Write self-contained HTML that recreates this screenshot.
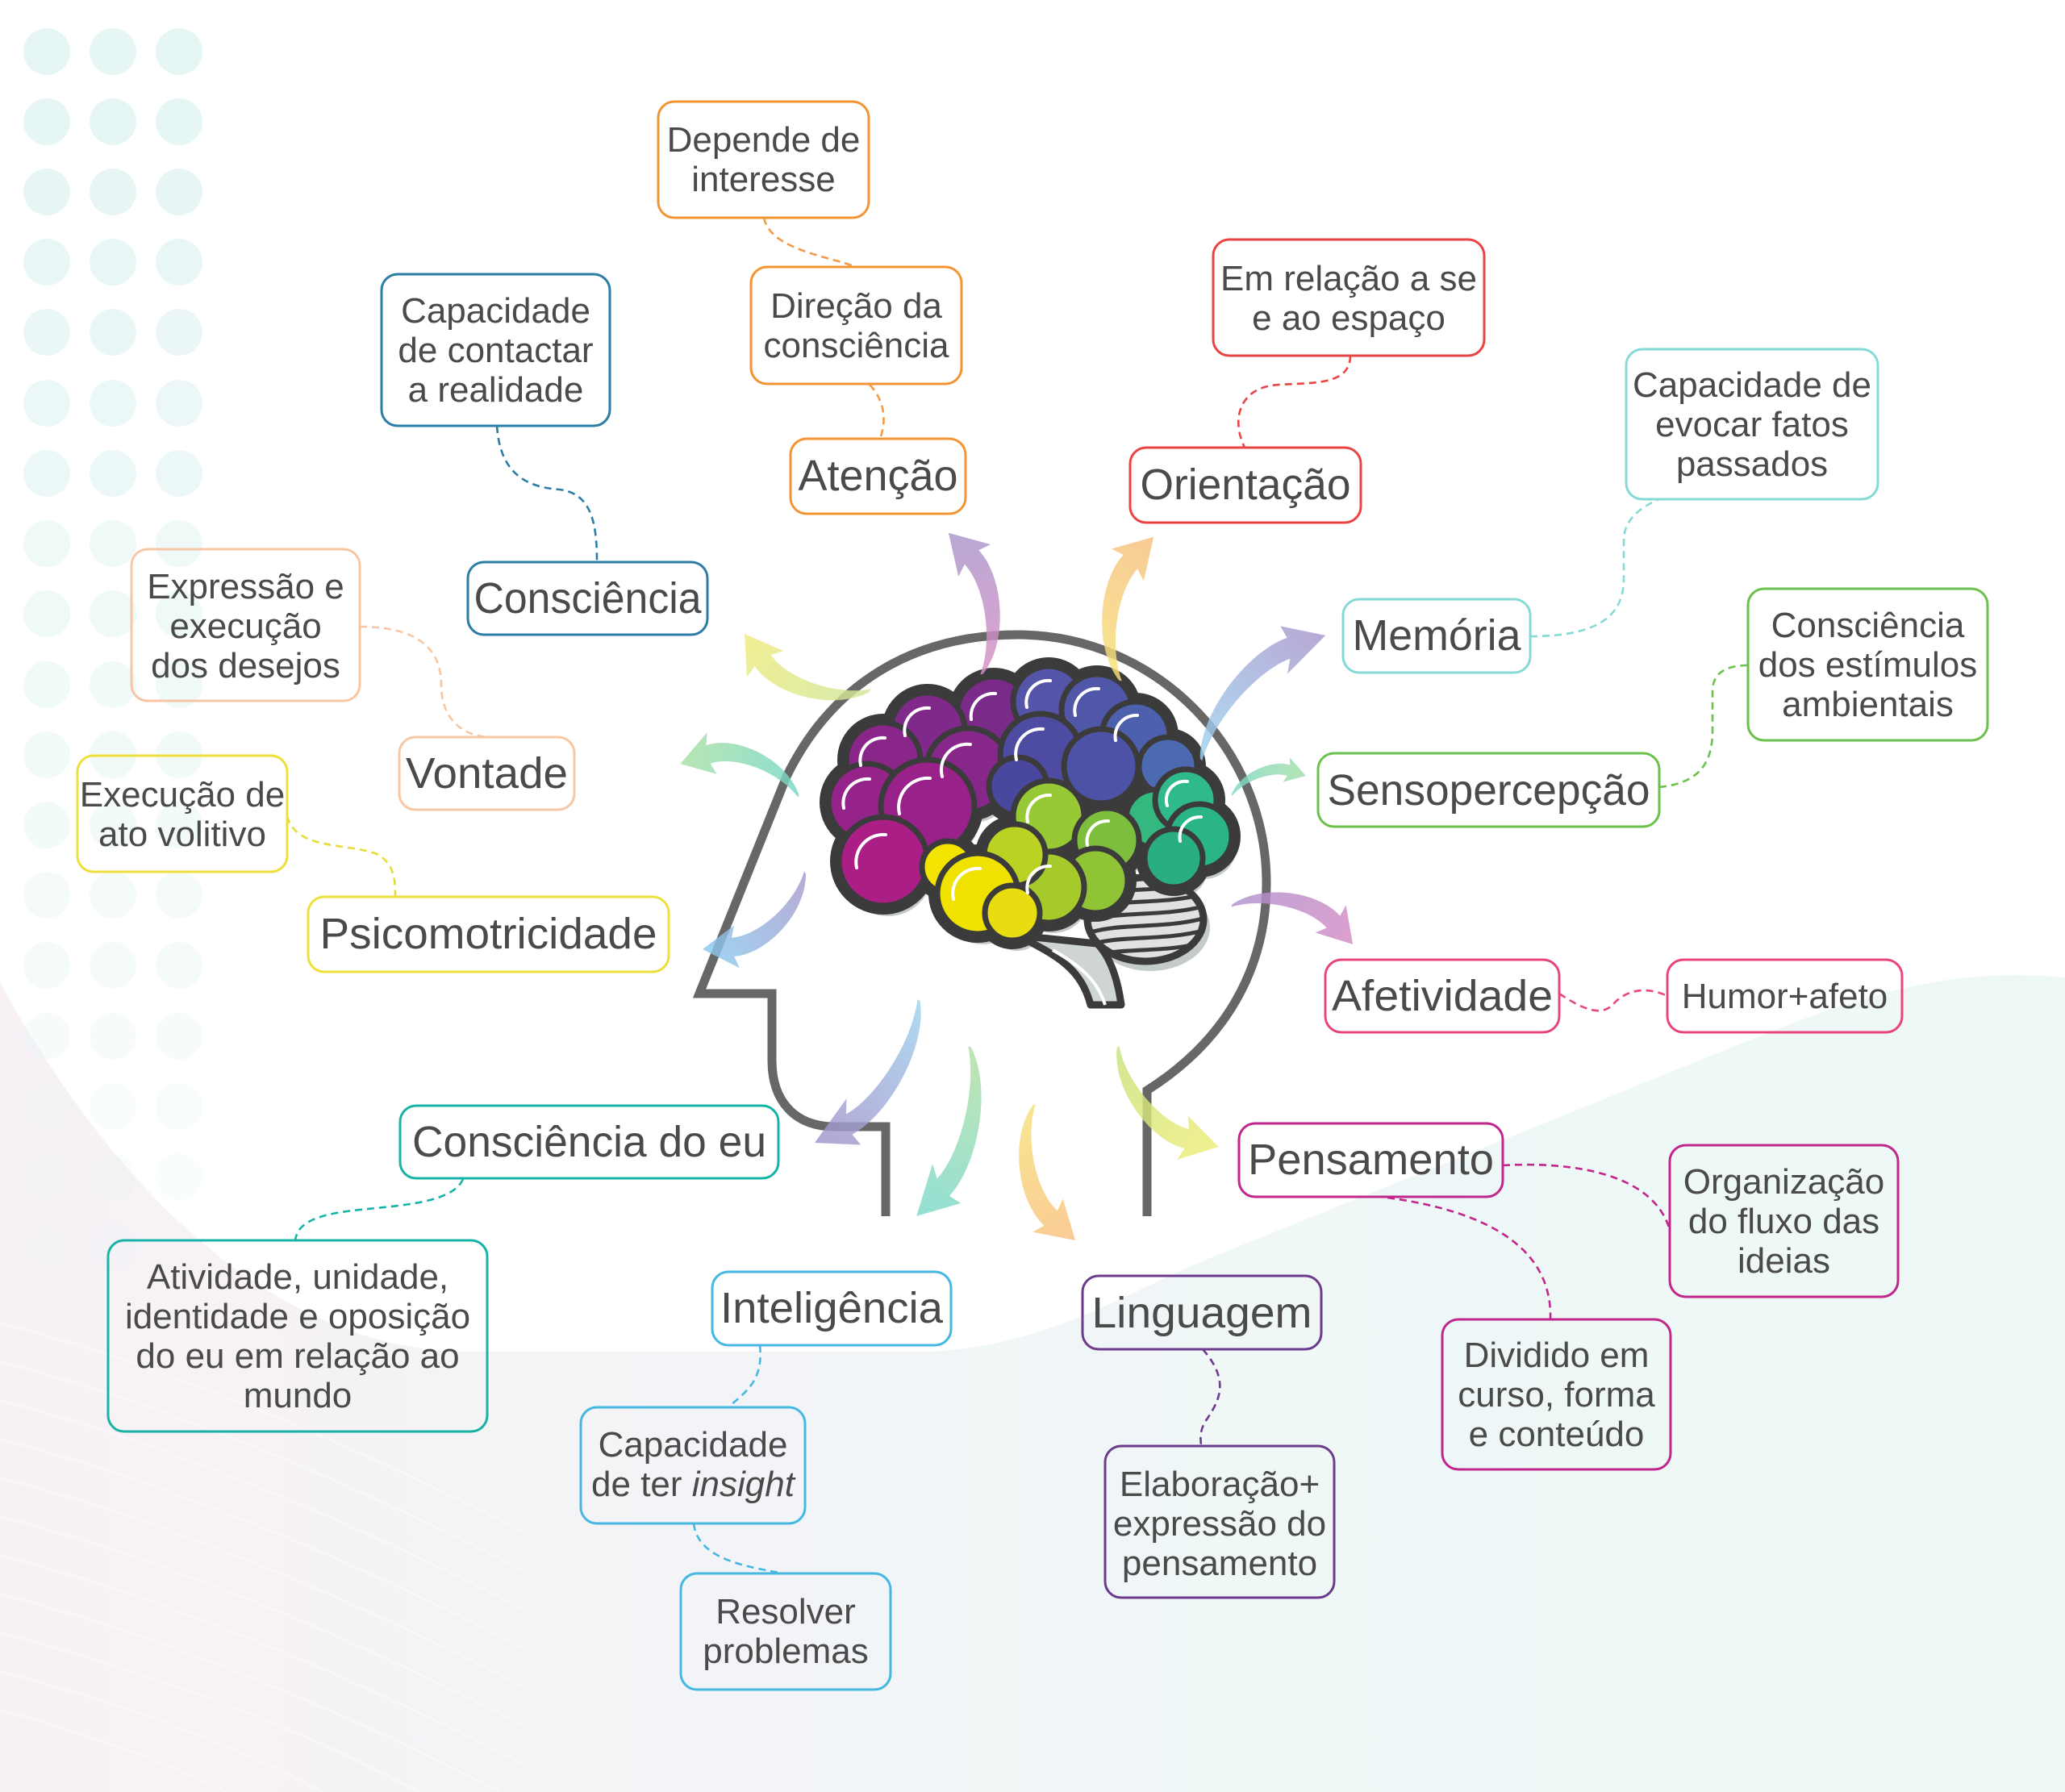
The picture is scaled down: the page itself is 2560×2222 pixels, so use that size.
<!DOCTYPE html>
<html><head><meta charset="utf-8"><style>
html,body{margin:0;padding:0;background:#fff;}
svg{display:block;}
text{font-family:"Liberation Sans","DejaVu Sans",sans-serif;fill:#4a4a4a;}
.s{font-size:44px;text-anchor:middle;}
.b{font-size:54px;text-anchor:middle;}
.box{fill:none;stroke-width:3;}
.cn{fill:none;stroke-width:2.6;stroke-dasharray:9 6;}
</style></head><body>
<svg width="2560" height="2222" viewBox="0 0 2560 2222" xmlns="http://www.w3.org/2000/svg">
<defs>
<linearGradient id="bg" x1="0" y1="0" x2="1" y2="0">
<stop offset="0" stop-color="#f7f1f5"/><stop offset="0.35" stop-color="#f3f4f7"/><stop offset="0.6" stop-color="#eff7f7"/><stop offset="1" stop-color="#edf8f6"/>
</linearGradient>
<path id="arw" d="M 0 -1 C 18 -24 62 -31 83.6 -18 L 85.6 -27.2 L 100 0 L 69.2 0.2 L 76.4 -6 C 59.3 -16.3 22 -14 0 1 Z"/>
<linearGradient id="a1" x1="0" y1="0" x2="1" y2="0"><stop offset="0" stop-color="#cfe69a"/><stop offset="1" stop-color="#eeec7c"/></linearGradient>
<linearGradient id="a2" x1="0" y1="0" x2="1" y2="0"><stop offset="0" stop-color="#d88fc4"/><stop offset="1" stop-color="#a795cb"/></linearGradient>
<linearGradient id="a3" x1="0" y1="0" x2="1" y2="0"><stop offset="0" stop-color="#f8e27a"/><stop offset="1" stop-color="#f6c07e"/></linearGradient>
<linearGradient id="a4" x1="0" y1="0" x2="1" y2="0"><stop offset="0" stop-color="#9dd3f0"/><stop offset="1" stop-color="#a996cc"/></linearGradient>
<linearGradient id="a5" x1="0" y1="0" x2="1" y2="0"><stop offset="0" stop-color="#7bd6c6"/><stop offset="1" stop-color="#a4e0a8"/></linearGradient>
<linearGradient id="a6" x1="0" y1="0" x2="1" y2="0"><stop offset="0" stop-color="#ae90d0"/><stop offset="1" stop-color="#d48cc4"/></linearGradient>
<linearGradient id="a7" x1="0" y1="0" x2="1" y2="0"><stop offset="0" stop-color="#c8e27c"/><stop offset="1" stop-color="#eeee78"/></linearGradient>
<linearGradient id="a8" x1="0" y1="0" x2="1" y2="0"><stop offset="0" stop-color="#f8e07a"/><stop offset="1" stop-color="#f8c07e"/></linearGradient>
<linearGradient id="a9" x1="0" y1="0" x2="1" y2="0"><stop offset="0" stop-color="#b2e0a2"/><stop offset="1" stop-color="#7cd8cc"/></linearGradient>
<linearGradient id="a10" x1="0" y1="0" x2="1" y2="0"><stop offset="0" stop-color="#9fd3f0"/><stop offset="1" stop-color="#a293c9"/></linearGradient>
<linearGradient id="a11" x1="0" y1="0" x2="1" y2="0"><stop offset="0" stop-color="#a898cc"/><stop offset="1" stop-color="#8ccaee"/></linearGradient>
<linearGradient id="a12" x1="0" y1="0" x2="1" y2="0"><stop offset="0" stop-color="#74d6c8"/><stop offset="1" stop-color="#a8e0a4"/></linearGradient>
<g id="blob">
<circle cx="1232" cy="885" r="46"/><circle cx="1150" cy="905" r="46"/><circle cx="1095" cy="942" r="46"/><circle cx="1075" cy="995" r="48"/><circle cx="1200" cy="955" r="52"/><circle cx="1150" cy="1000" r="58"/><circle cx="1095" cy="1068" r="55"/>
<circle cx="1300" cy="870" r="44"/><circle cx="1360" cy="880" r="44"/><circle cx="1408" cy="912" r="42"/><circle cx="1448" cy="950" r="36"/><circle cx="1290" cy="935" r="50"/><circle cx="1365" cy="950" r="46"/><circle cx="1262" cy="975" r="36"/>
<circle cx="1432" cy="1015" r="36"/><circle cx="1470" cy="992" r="38"/><circle cx="1487" cy="1037" r="40"/><circle cx="1455" cy="1064" r="36"/>
<circle cx="1300" cy="1012" r="44"/><circle cx="1372" cy="1042" r="40"/><circle cx="1358" cy="1092" r="40"/><circle cx="1300" cy="1100" r="44"/><circle cx="1258" cy="1060" r="38"/>
<circle cx="1175" cy="1075" r="32"/><circle cx="1212" cy="1108" r="50"/><circle cx="1255" cy="1132" r="34"/>
</g>
<clipPath id="cbclip"><ellipse cx="1420" cy="1140" rx="72" ry="52"/></clipPath>
</defs>

<!-- background -->
<rect width="2560" height="2222" fill="#ffffff"/>
<path d="M0 1218 C 110 1420 300 1660 560 1676 L 1150 1676 C 1300 1670 1400 1600 1500 1560 L 2176 1287 C 2330 1225 2430 1200 2560 1212 L 2560 2222 L 0 2222 Z" fill="url(#bg)"/>
<g stroke="#ffffff" stroke-width="3" fill="none" opacity="0.35">
<path d="M0 1640 Q 300 1720 650 1900"/><path d="M0 1688 Q 300 1768 650 1948"/><path d="M0 1736 Q 300 1816 650 1996"/><path d="M0 1784 Q 300 1864 650 2044"/><path d="M0 1832 Q 300 1912 650 2092"/><path d="M0 1880 Q 300 1960 650 2140"/><path d="M0 1928 Q 300 2008 650 2188"/><path d="M0 1976 Q 300 2056 620 2222"/><path d="M0 2024 Q 300 2104 520 2222"/><path d="M0 2072 Q 250 2140 400 2222"/><path d="M0 2120 Q 180 2170 280 2222"/>
</g>

<!-- dots -->
<g fill="#e5f6f5">
<g opacity="1"><circle cx="58" cy="64" r="29"/><circle cx="140" cy="64" r="29"/><circle cx="222" cy="64" r="29"/></g>
<g opacity="0.95"><circle cx="58" cy="151" r="29"/><circle cx="140" cy="151" r="29"/><circle cx="222" cy="151" r="29"/></g>
<g opacity="0.9"><circle cx="58" cy="238" r="29"/><circle cx="140" cy="238" r="29"/><circle cx="222" cy="238" r="29"/></g>
<g opacity="0.85"><circle cx="58" cy="325" r="29"/><circle cx="140" cy="325" r="29"/><circle cx="222" cy="325" r="29"/></g>
<g opacity="0.8"><circle cx="58" cy="412" r="29"/><circle cx="140" cy="412" r="29"/><circle cx="222" cy="412" r="29"/></g>
<g opacity="0.75"><circle cx="58" cy="500" r="29"/><circle cx="140" cy="500" r="29"/><circle cx="222" cy="500" r="29"/></g>
<g opacity="0.7"><circle cx="58" cy="587" r="29"/><circle cx="140" cy="587" r="29"/><circle cx="222" cy="587" r="29"/></g>
<g opacity="0.65"><circle cx="58" cy="674" r="29"/><circle cx="140" cy="674" r="29"/><circle cx="222" cy="674" r="29"/></g>
<g opacity="0.6"><circle cx="58" cy="761" r="29"/><circle cx="140" cy="761" r="29"/><circle cx="222" cy="761" r="29"/></g>
<g opacity="0.55"><circle cx="58" cy="849" r="29"/><circle cx="140" cy="849" r="29"/><circle cx="222" cy="849" r="29"/></g>
<g opacity="0.5"><circle cx="58" cy="936" r="29"/><circle cx="140" cy="936" r="29"/><circle cx="222" cy="936" r="29"/></g>
<g opacity="0.45"><circle cx="58" cy="1023" r="29"/><circle cx="140" cy="1023" r="29"/><circle cx="222" cy="1023" r="29"/></g>
<g opacity="0.4"><circle cx="58" cy="1110" r="29"/><circle cx="140" cy="1110" r="29"/><circle cx="222" cy="1110" r="29"/></g>
<g opacity="0.35"><circle cx="58" cy="1197" r="29"/><circle cx="140" cy="1197" r="29"/><circle cx="222" cy="1197" r="29"/></g>
<g opacity="0.3"><circle cx="58" cy="1285" r="29"/><circle cx="140" cy="1285" r="29"/><circle cx="222" cy="1285" r="29"/></g>
<g opacity="0.25"><circle cx="58" cy="1372" r="29"/><circle cx="140" cy="1372" r="29"/><circle cx="222" cy="1372" r="29"/></g>
<g opacity="0.2"><circle cx="58" cy="1459" r="29"/><circle cx="140" cy="1459" r="29"/><circle cx="222" cy="1459" r="29"/></g>
<g opacity="0.14"><circle cx="58" cy="1546" r="29"/><circle cx="140" cy="1546" r="29"/></g>
</g>

<!-- head outline -->
<path d="M1098 1508 V1397 H1035 C985 1397 957 1365 957 1315 V1232 H867 L975 963 C1030 850 1130 787 1262 787 C1430 787 1570 925 1570 1095 C1570 1200 1520 1290 1422 1352 V1508" fill="none" stroke="#676767" stroke-width="11" stroke-linejoin="miter"/>

<!-- brain -->
<use href="#blob" transform="translate(6,13)" fill="#c4cbc8"/>
<ellipse cx="1426" cy="1150" rx="74" ry="54" fill="#c4cbc8"/>
<path d="M1262 1160 C1310 1185 1340 1200 1352 1246 L1390 1246 C1385 1210 1375 1185 1360 1170 Z" fill="#cfd5d2" stroke="#3b3b3b" stroke-width="9" stroke-linejoin="round"/>
<path d="M1305 1178 C1340 1198 1360 1215 1370 1246" fill="none" stroke="#ffffff" stroke-width="4"/>
<ellipse cx="1420" cy="1140" rx="72" ry="52" fill="#dfe2e1" stroke="#3b3b3b" stroke-width="9"/>
<g clip-path="url(#cbclip)" fill="none" stroke="#3b3b3b" stroke-width="5">
<path d="M1345 1098 C1390 1083 1440 1093 1495 1078"/><path d="M1345 1113 C1390 1098 1440 1108 1495 1093"/><path d="M1345 1128 C1390 1113 1440 1123 1495 1108"/><path d="M1345 1143 C1390 1128 1440 1138 1495 1123"/><path d="M1345 1158 C1390 1143 1440 1153 1495 1138"/><path d="M1345 1173 C1390 1158 1440 1168 1495 1153"/><path d="M1345 1188 C1390 1173 1440 1183 1495 1168"/>
</g>
<use href="#blob" fill="#3b3b3b" stroke="#3b3b3b" stroke-width="22"/>
<g stroke="#3b3b3b" stroke-width="7">
<circle cx="1232" cy="885" r="46" fill="#7a2a89"/><circle cx="1150" cy="905" r="46" fill="#80298a"/><circle cx="1095" cy="942" r="46" fill="#8a268a"/><circle cx="1075" cy="995" r="48" fill="#95238a"/><circle cx="1200" cy="955" r="52" fill="#88278a"/><circle cx="1150" cy="1000" r="58" fill="#98228a"/><circle cx="1095" cy="1068" r="55" fill="#aa1e86"/>
<circle cx="1300" cy="870" r="44" fill="#5454a8"/><circle cx="1360" cy="880" r="44" fill="#5056a8"/><circle cx="1408" cy="912" r="42" fill="#4c60ad"/><circle cx="1448" cy="950" r="36" fill="#4b6ab2"/><circle cx="1290" cy="935" r="50" fill="#4e4ba2"/><circle cx="1365" cy="950" r="46" fill="#4c53a6"/><circle cx="1262" cy="975" r="36" fill="#4a479f"/>
<circle cx="1432" cy="1015" r="36" fill="#35b87f"/><circle cx="1470" cy="992" r="38" fill="#30b98a"/><circle cx="1487" cy="1037" r="40" fill="#2ab586"/><circle cx="1455" cy="1064" r="36" fill="#29ae80"/>
<circle cx="1300" cy="1012" r="44" fill="#96c934"/><circle cx="1372" cy="1042" r="40" fill="#7dbf3c"/><circle cx="1358" cy="1092" r="40" fill="#8ec436"/><circle cx="1300" cy="1100" r="44" fill="#a6ca2a"/><circle cx="1258" cy="1060" r="38" fill="#bcd222"/>
<circle cx="1175" cy="1075" r="32" fill="#f2e300"/><circle cx="1212" cy="1108" r="50" fill="#f0e200"/><circle cx="1255" cy="1132" r="34" fill="#e8dd10"/>
</g>
<g fill="none" stroke="#ffffff" stroke-width="4" stroke-linecap="round">
<path d="M1204 892 A28 28 0 0 1 1234 860"/><path d="M1122 912 A28 28 0 0 1 1152 878"/><path d="M1067 949 A28 28 0 0 1 1097 915"/><path d="M1046 1002 A30 30 0 0 1 1078 966"/><path d="M1168 963 A32 32 0 0 1 1203 923"/><path d="M1115 1009 A36 36 0 0 1 1153 965"/><path d="M1062 1076 A34 34 0 0 1 1098 1035"/>
<path d="M1273 877 A27 27 0 0 1 1302 844"/><path d="M1333 887 A27 27 0 0 1 1362 854"/><path d="M1383 918 A26 26 0 0 1 1410 887"/><path d="M1260 942 A31 31 0 0 1 1293 904"/>
<path d="M1463 1043 A25 25 0 0 1 1489 1013"/><path d="M1447 999 A23 23 0 0 1 1472 969"/>
<path d="M1274 1019 A27 27 0 0 1 1302 986"/><path d="M1274 1107 A27 27 0 0 1 1302 1074"/><path d="M1348 1048 A25 25 0 0 1 1374 1018"/>
<path d="M1182 1115 A31 31 0 0 1 1215 1077"/>
</g>

<!-- arrows -->
<g opacity="0.82">
<use href="#arw" fill="url(#a1)" transform="translate(1079,856) rotate(-155.8) scale(1.71,1.75)"/>
<use href="#arw" fill="url(#a2)" transform="translate(1217,836) rotate(-103.2) scale(1.8,-1.75)"/>
<use href="#arw" fill="url(#a3)" transform="translate(1389,844) rotate(-77) scale(1.83,1.75)"/>
<use href="#arw" fill="url(#a4)" transform="translate(1489,942) rotate(-45) scale(2.18,1.75)"/>
<use href="#arw" fill="url(#a5)" transform="translate(1527,986) rotate(-14.6) scale(0.95,1.0)"/>
<use href="#arw" fill="url(#a6)" transform="translate(1527,1123) rotate(17.7) scale(1.575,1.6)"/>
<use href="#arw" fill="url(#a7)" transform="translate(1386,1298) rotate(44.8) scale(1.76,-1.75)"/>
<use href="#arw" fill="url(#a8)" transform="translate(1282,1370) rotate(73.1) scale(1.756,-1.75)"/>
<use href="#arw" fill="url(#a9)" transform="translate(1202,1298) rotate(107.4) scale(2.2,1.75)"/>
<use href="#arw" fill="url(#a10)" transform="translate(1139,1240) rotate(126.1) scale(2.19,1.75)"/>
<use href="#arw" fill="url(#a11)" transform="translate(998,1082) rotate(143.2) scale(1.586,1.7)"/>
<use href="#arw" fill="url(#a12)" transform="translate(990,987) rotate(-164.8) scale(1.52,-1.7)"/>
</g>

<!-- connectors -->
<path class="cn" stroke="#f39a48" d="M947 270 C955 310 1029 318 1061 331"/>
<path class="cn" stroke="#f39a48" d="M1078 477 C1091 490 1102 514 1091 544"/>
<path class="cn" stroke="#2c7da5" d="M616 528 C620 588 653 604 694 607 C735 612 740 653 740 697"/>
<path class="cn" stroke="#f7c7a3" d="M446 777 C522 777 547 808 547 849 C547 890 571 911 604 914"/>
<path class="cn" stroke="#e6dc3a" d="M356 1012 C367 1053 424 1045 465 1058 C490 1069 490 1094 490 1112"/>
<path class="cn" stroke="#17b3a6" d="M574 1462 C560 1495 480 1495 430 1502 C385 1508 368 1520 366 1538"/>
<path class="cn" stroke="#45b7e3" d="M942 1668 C947 1714 922 1727 903 1745"/>
<path class="cn" stroke="#45b7e3" d="M860 1889 C865 1935 930 1943 971 1951"/>
<path class="cn" stroke="#6c3b8d" d="M1491 1673 C1527 1714 1510 1739 1494 1763 C1486 1776 1489 1788 1489 1793"/>
<path class="cn" stroke="#c0268b" d="M1863 1445 C1950 1440 2050 1455 2070 1525"/>
<path class="cn" stroke="#c0268b" d="M1720 1485 C1830 1500 1925 1540 1922 1636"/>
<path class="cn" stroke="#e8457f" d="M1933 1232 C1960 1250 1985 1262 2000 1245 C2015 1228 2040 1222 2067 1235"/>
<path class="cn" stroke="#86dad6" d="M1897 789 C1976 789 2013 767 2013 718 L2013 670 C2013 645 2033 629 2057 619"/>
<path class="cn" stroke="#6bc14b" d="M2057 976 C2106 971 2123 947 2123 906 L2123 857 C2123 833 2142 825 2167 825"/>
<path class="cn" stroke="#ea4343" d="M1674 441 C1674 482 1616 473 1576 478 C1535 485 1527 522 1543 555"/>

<!-- boxes -->
<g stroke="#f39433"><rect class="box" x="816" y="126" width="261" height="144" rx="20"/><rect class="box" x="931" y="331" width="261" height="145" rx="20"/><rect class="box" x="980" y="544" width="217" height="93" rx="20"/></g>
<g stroke="#2c7da5"><rect class="box" x="473" y="340" width="283" height="188" rx="20"/><rect class="box" x="580" y="697" width="297" height="90" rx="20"/></g>
<g stroke="#f7c7a3"><rect class="box" x="163" y="681" width="283" height="188" rx="20"/><rect class="box" x="495" y="914" width="217" height="90" rx="20"/></g>
<g stroke="#eee03a"><rect class="box" x="96" y="937" width="260" height="144" rx="20"/><rect class="box" x="382" y="1112" width="447" height="93" rx="20"/></g>
<g stroke="#17b3a6"><rect class="box" x="496" y="1371" width="469" height="90" rx="20"/><rect class="box" x="134" y="1538" width="470" height="237" rx="20"/></g>
<g stroke="#45b7e3"><rect class="box" x="883" y="1577" width="296" height="91" rx="20"/><rect class="box" x="720" y="1745" width="278" height="144" rx="20"/><rect class="box" x="844" y="1951" width="260" height="144" rx="20"/></g>
<g stroke="#6c3b8d"><rect class="box" x="1342" y="1582" width="296" height="91" rx="20"/><rect class="box" x="1370" y="1793" width="284" height="188" rx="20"/></g>
<g stroke="#c0268b"><rect class="box" x="1536" y="1393" width="327" height="91" rx="20"/><rect class="box" x="2070" y="1420" width="283" height="188" rx="20"/><rect class="box" x="1788" y="1636" width="283" height="186" rx="20"/></g>
<g stroke="#e8457f"><rect class="box" x="1643" y="1190" width="290" height="90" rx="20"/><rect class="box" x="2067" y="1190" width="291" height="90" rx="20"/></g>
<g stroke="#86dad6"><rect class="box" x="1665" y="743" width="232" height="91" rx="20"/><rect class="box" x="2016" y="433" width="312" height="186" rx="20"/></g>
<g stroke="#6bc14b"><rect class="box" x="1634" y="934" width="423" height="91" rx="20"/><rect class="box" x="2167" y="730" width="297" height="188" rx="20"/></g>
<g stroke="#ea4343"><rect class="box" x="1401" y="555" width="286" height="93" rx="20"/><rect class="box" x="1504" y="297" width="336" height="144" rx="20"/></g>

<!-- big labels -->
<text class="b" x="1088.5" y="608" textLength="198" lengthAdjust="spacingAndGlyphs">Atenção</text>
<text class="b" x="728.5" y="760" textLength="282" lengthAdjust="spacingAndGlyphs">Consciência</text>
<text class="b" x="603.5" y="977" textLength="201" lengthAdjust="spacingAndGlyphs">Vontade</text>
<text class="b" x="605.5" y="1176" textLength="418" lengthAdjust="spacingAndGlyphs">Psicomotricidade</text>
<text class="b" x="730.5" y="1434" textLength="439" lengthAdjust="spacingAndGlyphs">Consciência do eu</text>
<text class="b" x="1031" y="1640" textLength="276" lengthAdjust="spacingAndGlyphs">Inteligência</text>
<text class="b" x="1490" y="1646" textLength="273" lengthAdjust="spacingAndGlyphs">Linguagem</text>
<text class="b" x="1699.5" y="1456" textLength="305" lengthAdjust="spacingAndGlyphs">Pensamento</text>
<text class="b" x="1788" y="1253" textLength="274" lengthAdjust="spacingAndGlyphs">Afetividade</text>
<text class="b" x="1781" y="806" textLength="209" lengthAdjust="spacingAndGlyphs">Memória</text>
<text class="b" x="1845.5" y="998" textLength="400" lengthAdjust="spacingAndGlyphs">Sensopercepção</text>
<text class="b" x="1544" y="619" textLength="261" lengthAdjust="spacingAndGlyphs">Orientação</text>

<!-- small labels -->
<text class="s" x="946.5" y="188">Depende de</text>
<text class="s" x="946.5" y="237">interesse</text>
<text class="s" x="1061.5" y="394">Direção da</text>
<text class="s" x="1061.5" y="443">consciência</text>
<text class="s" x="614.5" y="400">Capacidade</text>
<text class="s" x="614.5" y="449">de contactar</text>
<text class="s" x="614.5" y="498">a realidade</text>
<text class="s" x="304.5" y="742">Expressão e</text>
<text class="s" x="304.5" y="791">execução</text>
<text class="s" x="304.5" y="840">dos desejos</text>
<text class="s" x="226" y="1000">Execução de</text>
<text class="s" x="226" y="1049">ato volitivo</text>
<text class="s" x="369" y="1598">Atividade, unidade,</text>
<text class="s" x="369" y="1647">identidade e oposição</text>
<text class="s" x="369" y="1696">do eu em relação ao</text>
<text class="s" x="369" y="1745">mundo</text>
<text class="s" x="859" y="1806">Capacidade</text>
<text class="s" x="859" y="1855">de ter <tspan font-style="italic">insight</tspan></text>
<text class="s" x="974" y="2013">Resolver</text>
<text class="s" x="974" y="2062">problemas</text>
<text class="s" x="1512" y="1855">Elaboração+</text>
<text class="s" x="1512" y="1904">expressão do</text>
<text class="s" x="1512" y="1953">pensamento</text>
<text class="s" x="2211.5" y="1480">Organização</text>
<text class="s" x="2211.5" y="1529">do fluxo das</text>
<text class="s" x="2211.5" y="1578">ideias</text>
<text class="s" x="1929.5" y="1695">Dividido em</text>
<text class="s" x="1929.5" y="1744">curso, forma</text>
<text class="s" x="1929.5" y="1793">e conteúdo</text>
<text class="s" x="2212.5" y="1250">Humor+afeto</text>
<text class="s" x="2172" y="492">Capacidade de</text>
<text class="s" x="2172" y="541">evocar fatos</text>
<text class="s" x="2172" y="590">passados</text>
<text class="s" x="2315.5" y="790">Consciência</text>
<text class="s" x="2315.5" y="839">dos estímulos</text>
<text class="s" x="2315.5" y="888">ambientais</text>
<text class="s" x="1672" y="360">Em relação a se</text>
<text class="s" x="1672" y="409">e ao espaço</text>
</svg>
</body></html>
